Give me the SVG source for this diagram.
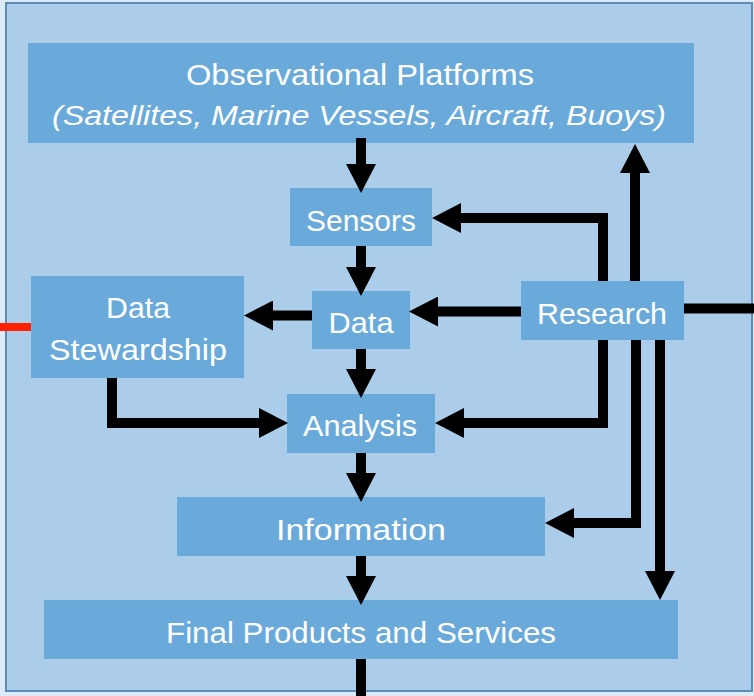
<svg xmlns="http://www.w3.org/2000/svg" width="754" height="696" viewBox="0 0 754 696">
<defs>
<style>
.box{fill:#6aaadb}
.t{font-family:"Liberation Sans",Arial,sans-serif;font-size:30px;fill:#ffffff;text-anchor:middle}
.i{font-style:italic;font-size:28px}
.c{fill:none;stroke:#000;stroke-width:10;stroke-linejoin:miter}
.a{marker-end:url(#ah)}
</style>
<marker id="ah" markerUnits="userSpaceOnUse" markerWidth="30" markerHeight="30" refX="0" refY="15" orient="auto" viewBox="0 0 30 30">
<path d="M0,0 L29,15 L0,30 z" fill="#000"/>
</marker>
</defs>
<rect x="0" y="0" width="754" height="696" fill="#dce9f6"/>
<rect x="6" y="3" width="746" height="688" fill="#abcde9" stroke="#5b8cb8" stroke-width="2"/>
<g id="observational-platforms">
<rect class="box" x="28" y="43" width="666" height="100"/>
<text class="t" x="360" y="85" textLength="348" lengthAdjust="spacingAndGlyphs">Observational Platforms</text>
<text class="t i" x="359" y="125" textLength="614" lengthAdjust="spacingAndGlyphs">(Satellites, Marine Vessels, Aircraft, Buoys)</text>
</g>
<g id="sensors">
<rect class="box" x="290" y="188" width="142" height="58"/>
<text class="t" x="361" y="231" textLength="110" lengthAdjust="spacingAndGlyphs">Sensors</text>
</g>
<g id="data">
<rect class="box" x="312" y="291" width="98" height="58"/>
<text class="t" x="361" y="333" textLength="65" lengthAdjust="spacingAndGlyphs">Data</text>
</g>
<g id="data-stewardship">
<rect class="box" x="31" y="276" width="213" height="102"/>
<text class="t" x="138" y="318" textLength="64" lengthAdjust="spacingAndGlyphs">Data</text>
<text class="t" x="138" y="360" textLength="178" lengthAdjust="spacingAndGlyphs">Stewardship</text>
</g>
<g id="research">
<rect class="box" x="521" y="281" width="163" height="59"/>
<text class="t" x="602" y="324" textLength="130" lengthAdjust="spacingAndGlyphs">Research</text>
</g>
<g id="analysis">
<rect class="box" x="287" y="394" width="148" height="59"/>
<text class="t" x="360" y="436" textLength="114" lengthAdjust="spacingAndGlyphs">Analysis</text>
</g>
<g id="information">
<rect class="box" x="177" y="497" width="368" height="59"/>
<text class="t" x="361" y="540" textLength="170" lengthAdjust="spacingAndGlyphs">Information</text>
</g>
<g id="final-products">
<rect class="box" x="44" y="600" width="634" height="59"/>
<text class="t" x="361" y="643" textLength="390" lengthAdjust="spacingAndGlyphs">Final Products and Services</text>
</g>
<g id="connectors">
<path class="c a" d="M361,138 V164"/>
<path class="c a" d="M361,246 V267"/>
<path class="c a" d="M361,349 V369"/>
<path class="c a" d="M361,453 V473"/>
<path class="c a" d="M361,556 V576"/>
<path class="c" d="M361,659 V696"/>
<path class="c a" d="M312,315.5 H273"/>
<path class="c a" d="M112,378 V423 H259"/>
<path d="M0,327 H31" stroke="#ff2200" stroke-width="8" fill="none"/>
<path class="c a" d="M521,311.5 H438"/>
<path class="c" d="M684,308.5 H754"/>
<path class="c a" d="M603,281 V218 H461"/>
<path class="c a" d="M603,340 V423 H464"/>
<path class="c a" d="M635,281 V173"/>
<path class="c a" d="M636,340 V523 H574"/>
<path class="c a" d="M660,340 V571"/>
</g>
</svg>
